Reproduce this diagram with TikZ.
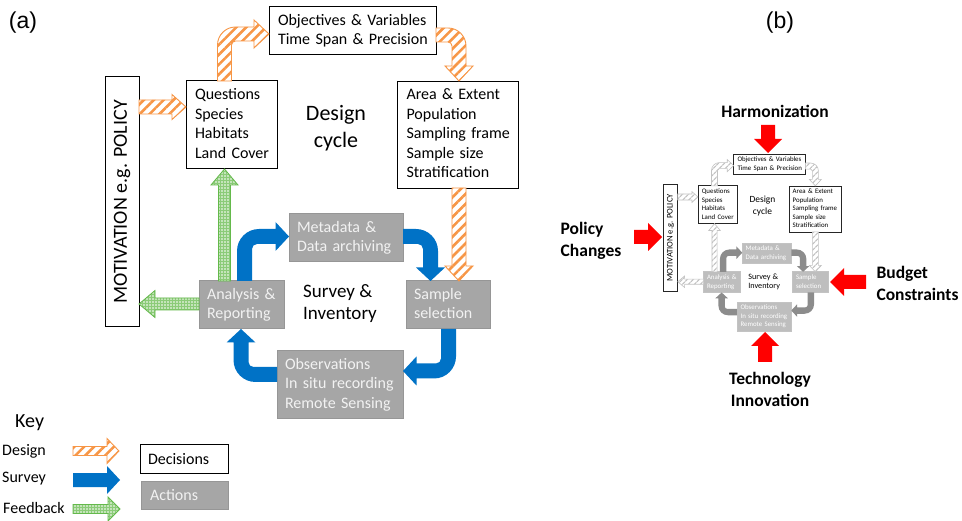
\documentclass[tikz,border=0pt]{standalone}
\usepackage{fontspec}
\setmainfont{Carlito}
\newfontfamily\arialf{Liberation Sans}
\usetikzlibrary{patterns.meta}

\definecolor{orangeA}{RGB}{247,150,70}
\definecolor{blueA}{RGB}{0,114,198}
\definecolor{greenA}{RGB}{100,185,75}
\definecolor{greyA}{RGB}{166,166,166}
\definecolor{greyAd}{RGB}{150,150,150}
\definecolor{greyB}{RGB}{190,190,190}
\definecolor{greyBd}{RGB}{140,140,140}
\definecolor{greyBl}{RGB}{195,195,195}
\definecolor{redA}{RGB}{255,0,0}
\definecolor{offwhite}{RGB}{242,242,242}

% unbreakable block of left-aligned lines
\newcommand\lines[1]{\begin{tabular}{@{}l@{}}#1\end{tabular}}

% L-shaped block arrow: start, corner, tip
\newcommand\LArrow[7]{%
  \pgfmathsetmacro\dax{sign(#4-#2)}%
  \pgfmathsetmacro\day{sign(#5-#3)}%
  \pgfmathsetmacro\dbx{sign(#6-#4)}%
  \pgfmathsetmacro\dby{sign(#7-#5)}%
  \pgfmathsetmacro\Pox{#4+\ahs*(\dax)-\ahs*(\dbx)}%
  \pgfmathsetmacro\Poy{#5+\ahs*(\day)-\ahs*(\dby)}%
  \pgfmathsetmacro\Pix{#4-\ahs*(\dax)+\ahs*(\dbx)}%
  \pgfmathsetmacro\Piy{#5-\ahs*(\day)+\ahs*(\dby)}%
  \pgfmathsetmacro\Bx{#6-\ahl*(\dbx)}%
  \pgfmathsetmacro\By{#7-\ahl*(\dby)}%
  \path[#1] ({#2-\ahs*(\dbx)},{#3-\ahs*(\dby)})
   -- ({\Pox-\arO*(\dax)},{\Poy-\arO*(\day)})
   .. controls ({\Pox-0.448*\arO*(\dax)},{\Poy-0.448*\arO*(\day)}) and ({\Pox+0.448*\arO*(\dbx)},{\Poy+0.448*\arO*(\dby)}) .. ({\Pox+\arO*(\dbx)},{\Poy+\arO*(\dby)})
   -- ({\Bx+\ahs*(\dax)},{\By+\ahs*(\day)})
   -- ({\Bx+\ahh*(\dax)},{\By+\ahh*(\day)})
   -- (#6,#7)
   -- ({\Bx-\ahh*(\dax)},{\By-\ahh*(\day)})
   -- ({\Bx-\ahs*(\dax)},{\By-\ahs*(\day)})
   -- ({\Pix+\arI*(\dbx)},{\Piy+\arI*(\dby)})
   .. controls ({\Pix+0.448*\arI*(\dbx)},{\Piy+0.448*\arI*(\dby)}) and ({\Pix-0.448*\arI*(\dax)},{\Piy-0.448*\arI*(\day)}) .. ({\Pix-\arI*(\dax)},{\Piy-\arI*(\day)})
   -- ({#2+\ahs*(\dbx)},{#3+\ahs*(\dby)}) -- cycle;
}
% straight block arrow: start, tip
\newcommand\SArrow[5]{%
  \pgfmathsetmacro\sdx{sign(#4-#2)}%
  \pgfmathsetmacro\sdy{sign(#5-#3)}%
  \pgfmathsetmacro\snx{-(\sdy)}%
  \pgfmathsetmacro\sny{\sdx}%
  \pgfmathsetmacro\Bx{#4-\ahl*(\sdx)}%
  \pgfmathsetmacro\By{#5-\ahl*(\sdy)}%
  \path[#1] ({#2+\ahs*(\snx)},{#3+\ahs*(\sny)})
   -- ({\Bx+\ahs*(\snx)},{\By+\ahs*(\sny)})
   -- ({\Bx+\ahh*(\snx)},{\By+\ahh*(\sny)})
   -- (#4,#5)
   -- ({\Bx-\ahh*(\snx)},{\By-\ahh*(\sny)})
   -- ({\Bx-\ahs*(\snx)},{\By-\ahs*(\sny)})
   -- ({#2-\ahs*(\snx)},{#3-\ahs*(\sny)}) -- cycle;
}

\tikzset{
  boxfont/.style={font=\fontsize{16}{19.5}\selectfont},
  dec/.style={draw=black, line width=1pt, fill=white, inner xsep=9pt, inner ysep=0pt, align=left, boxfont},
  act/.style={draw=greyAd, line width=1pt, fill=greyA, text=offwhite, inner xsep=8pt, inner ysep=0pt, align=left, boxfont},
  design/.style={draw=orangeA, line width=0.9pt, preaction={fill=white}, pattern={Lines[angle=45,distance=7pt,line width=2.6pt]}, pattern color=orangeA},
  survey/.style={fill=blueA},
  feedback/.style={draw=greenA, line width=0.8pt, preaction={fill=greenA!75}, pattern={Dots[radius=0.8pt,distance=3pt]}, pattern color=white},
  cyclelabel/.style={font=\fontsize{22}{27}\selectfont, align=center},
  surveylabel/.style={font=\fontsize{19}{22}\selectfont, align=left},
  motfont/.style={font=\fontsize{20}{22}\selectfont},
  redarrow/.style={fill=redA},
  blabel/.style={font=\bfseries\fontsize{17.5}{22}\selectfont},
}

\newcommand\cyclefig{%
  \node[dec, minimum width=167pt, minimum height=48pt, text width=149pt] (obj) at (352.5,31) {\lines{Objectives \& Variables\\Time Span \& Precision}};
  \node[dec, minimum width=91pt, minimum height=88pt, text width=73pt] (q) at (231.5,125) {\lines{Questions\\Species\\Habitats\\Land Cover}};
  \node[dec, anchor=north west, minimum width=121pt, minimum height=107pt, text width=103pt] (area) at (397,81) {\lines{Area \& Extent\\Population\\Sampling frame\\Sample size\\Stratification}};
  \node[dec, motfont, rotate=90, minimum width=250pt, minimum height=34pt, align=center, inner xsep=0pt] (mot) at (122,202) {MOTIVATION e.g. POLICY};
  \node[act, minimum width=114pt, minimum height=48pt, text width=98pt] (meta) at (346,238) {\lines{Metadata \&\\Data archiving}};
  \node[act, minimum width=85pt, minimum height=48pt, text width=69pt] (ana) at (241.5,305) {\lines{Analysis \&\\Reporting}};
  \node[act, minimum width=84pt, minimum height=48pt, text width=68pt] (samp) at (448,305) {\lines{Sample\\selection}};
  \node[act, minimum width=126pt, minimum height=68pt, text width=110pt] (obs) at (340,385) {\lines{Observations\\In situ recording\\Remote Sensing}};
  \node[cyclelabel] (dc) at (336,128.5) {Design\\cycle};
  \node[surveylabel] (si) at (340,304) {Survey \&\\Inventory};
  % design arrows
  \def\ahs{7}\def\ahh{14}\def\ahl{15}\def\arO{18}\def\arI{4}%
  \LArrow{design}{224.5}{81}{224.5}{34}{269}{34}
  \LArrow{design}{436}{35}{459}{35}{459}{81}
  \SArrow{design}{459}{188}{459}{281}
  \def\ahh{12.5}\def\ahl{14}%
  \SArrow{design}{139}{107}{186}{107}
  % feedback arrows
  \def\ahs{6}\def\ahh{13.5}\def\ahl{16}%
  \SArrow{feedback}{224.5}{281}{224.5}{169}
  \SArrow{feedback}{199}{304}{139}{304}
  % survey arrows
  \def\ahs{7.5}\def\ahh{14.5}\def\ahl{13.5}\def\arO{22}\def\arI{5}%
  \LArrow{survey}{244.5}{281}{244.5}{236.5}{289}{236.5}
  \LArrow{survey}{403}{236.5}{430.5}{236.5}{430.5}{281}
  \LArrow{survey}{448.5}{329}{448.5}{371}{403}{371}
  \LArrow{survey}{277}{374.5}{241}{374.5}{241}{329}
}

\begin{document}
\begin{tikzpicture}[x=1pt,y=-1pt]
  \useasboundingbox[fill=white] (0,0) rectangle (962,521);
  % panel labels
  \node[font=\arialf\fontsize{23}{26}\selectfont] (la) at (23,23) {(a)};
  \node[font=\arialf\fontsize{23}{26}\selectfont] (lb) at (780,23) {(b)};

  % panel (a)
  \cyclefig

  % key
  \node[anchor=west, font=\fontsize{20}{24}\selectfont, inner sep=0pt] (key) at (15,423) {Key};
  \node[anchor=west, font=\fontsize{16}{19}\selectfont, inner sep=0pt] (kd) at (2,451) {Design};
  \node[anchor=west, font=\fontsize{16}{19}\selectfont, inner sep=0pt] (ks) at (2,479) {Survey};
  \node[anchor=west, font=\fontsize{16}{19}\selectfont, inner sep=0pt] (kf) at (3,508) {Feedback};
  \def\ahs{4.5}\def\ahh{12.5}\def\ahl{12}%
  \SArrow{design}{73}{451}{119}{451}
  \def\ahs{7}\def\ahh{14}\def\ahl{13}%
  \SArrow{survey}{73}{480}{120}{480}
  \def\ahs{4.5}\def\ahh{12}\def\ahl{12}%
  \SArrow{feedback}{73}{509}{120}{509}
  \node[dec, minimum width=88pt, minimum height=28pt, text width=72pt, inner xsep=8pt] (kdec) at (184,459) {Decisions};
  \node[act, minimum width=87pt, minimum height=28pt, text width=69pt, inner xsep=9pt] (kact) at (184.5,495) {Actions};

  % panel (b)
  \begin{scope}[shift={(618,151)}, scale=0.43, transform shape, name prefix=b]
    \tikzset{
      dec/.style={draw=black!85, line width=0.7pt, fill=white, inner xsep=9pt, inner ysep=0pt, align=left, boxfont},
      act/.style={draw=greyBl, line width=0.7pt, fill=greyB, text=white, inner xsep=8pt, inner ysep=0pt, align=left, boxfont},
      design/.style={draw=greyBl, line width=0.6pt, preaction={fill=white}, pattern={Lines[angle=45,distance=4pt,line width=1.3pt]}, pattern color=greyBl},
      feedback/.style={draw=greyBl, line width=0.6pt, preaction={fill=white}, pattern={Lines[angle=45,distance=4pt,line width=1.3pt]}, pattern color=greyBl},
      survey/.style={fill=greyBd},
    }
    \cyclefig
  \end{scope}

  % panel (b) influences
  \node[blabel] (harm) at (775,111) {Harmonization};
  \node[blabel, align=left] (pol) at (591,241) {Policy\\Changes};
  \node[blabel, align=left, anchor=west] (bud) at (873,283) {Budget\\Constraints};
  \node[blabel, align=center] (tech) at (770,389) {Technology\\Innovation};
  \def\ahs{7}\def\ahh{14}\def\ahl{14}%
  \SArrow{redarrow}{768}{125}{768}{153}
  \SArrow{redarrow}{634}{237}{662}{237}
  \SArrow{redarrow}{866}{282}{830}{282}
  \SArrow{redarrow}{765}{362}{765}{332}
\end{tikzpicture}
\end{document}
